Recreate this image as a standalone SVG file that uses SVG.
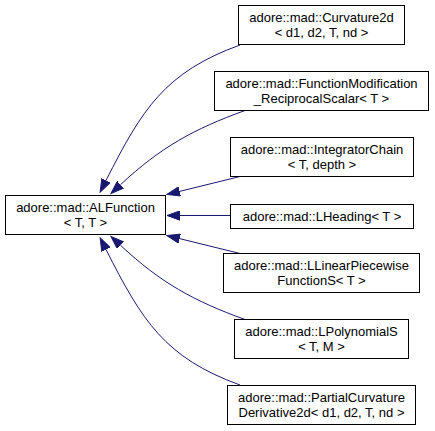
<svg xmlns="http://www.w3.org/2000/svg" width="435" height="431" viewBox="0 0 435 431">
<style>
  .box { fill: #ffffff; stroke: #000000; stroke-width: 1; }
  .lbl { font-family: "Liberation Sans", Arial, Helvetica, sans-serif; font-size: 13px; fill: #000000; text-anchor: middle; }
  .edge { fill: none; stroke: #191970; stroke-width: 1; }
</style>
<defs>
  <marker id="arrow" markerUnits="userSpaceOnUse" viewBox="0 -5 14 10" refX="0" refY="0" markerWidth="14" markerHeight="10" orient="auto">
    <path d="M0,-4.7 L13,0 L0,4.7 Z" fill="#191970" stroke="#191970" stroke-width="1"/>
  </marker>
</defs>
<rect width="435" height="431" fill="#ffffff"/>

<g id="connectors">
  <path class="edge" marker-end="url(#arrow)" d="M240,45 C164.8,72.2 142,109.3 106,180.5"/>
  <path class="edge" marker-end="url(#arrow)" d="M245,110.5 C193.3,129.2 160.65,147.3 120.5,184.7"/>
  <path class="edge" marker-end="url(#arrow)" d="M240,176.5 L179.6,191.4"/>
  <path class="edge" marker-end="url(#arrow)" d="M230,215.5 L180,215.5"/>
  <path class="edge" marker-end="url(#arrow)" d="M240,253.5 L179.6,238.6"/>
  <path class="edge" marker-end="url(#arrow)" d="M245,319.5 C193.3,300.8 160.65,282.7 120.5,245.3"/>
  <path class="edge" marker-end="url(#arrow)" d="M240,385 C164.8,357.8 142,320.7 106,249.5"/>
</g>

<g id="node-alfunction">
  <rect class="box" x="5.5" y="195.5" width="160" height="39"/>
  <text class="lbl" x="85.5" y="212">adore::mad::ALFunction</text>
  <text class="lbl" x="85.5" y="226.5">&lt; T, T &gt;</text>
</g>

<g id="node-curvature2d">
  <rect class="box" x="238.5" y="5.5" width="166" height="39"/>
  <text class="lbl" x="321.5" y="22">adore::mad::Curvature2d</text>
  <text class="lbl" x="321.5" y="36.5">&lt; d1, d2, T, nd &gt;</text>
</g>

<g id="node-functionmodification">
  <rect class="box" x="214.5" y="71.5" width="214" height="39"/>
  <text class="lbl" x="321.5" y="88">adore::mad::FunctionModification</text>
  <text class="lbl" x="321.5" y="102.5">_ReciprocalScalar&lt; T &gt;</text>
</g>

<g id="node-integratorchain">
  <rect class="box" x="230.5" y="137.5" width="183" height="39"/>
  <text class="lbl" x="322" y="154">adore::mad::IntegratorChain</text>
  <text class="lbl" x="322" y="168.5">&lt; T, depth &gt;</text>
</g>

<g id="node-lheading">
  <rect class="box" x="230.5" y="204.5" width="183" height="24"/>
  <text class="lbl" x="322" y="221">adore::mad::LHeading&lt; T &gt;</text>
</g>

<g id="node-llinearpiecewise">
  <rect class="box" x="223.5" y="253.5" width="196" height="39"/>
  <text class="lbl" x="321.5" y="270">adore::mad::LLinearPiecewise</text>
  <text class="lbl" x="321.5" y="284.5">FunctionS&lt; T &gt;</text>
</g>

<g id="node-lpolynomials">
  <rect class="box" x="234.5" y="319.5" width="174" height="39"/>
  <text class="lbl" x="321.5" y="336">adore::mad::LPolynomialS</text>
  <text class="lbl" x="321.5" y="350.5">&lt; T, M &gt;</text>
</g>

<g id="node-partialcurvature">
  <rect class="box" x="227.5" y="385.5" width="188" height="39"/>
  <text class="lbl" x="321.5" y="402">adore::mad::PartialCurvature</text>
  <text class="lbl" x="321.5" y="416.5">Derivative2d&lt; d1, d2, T, nd &gt;</text>
</g>
</svg>
